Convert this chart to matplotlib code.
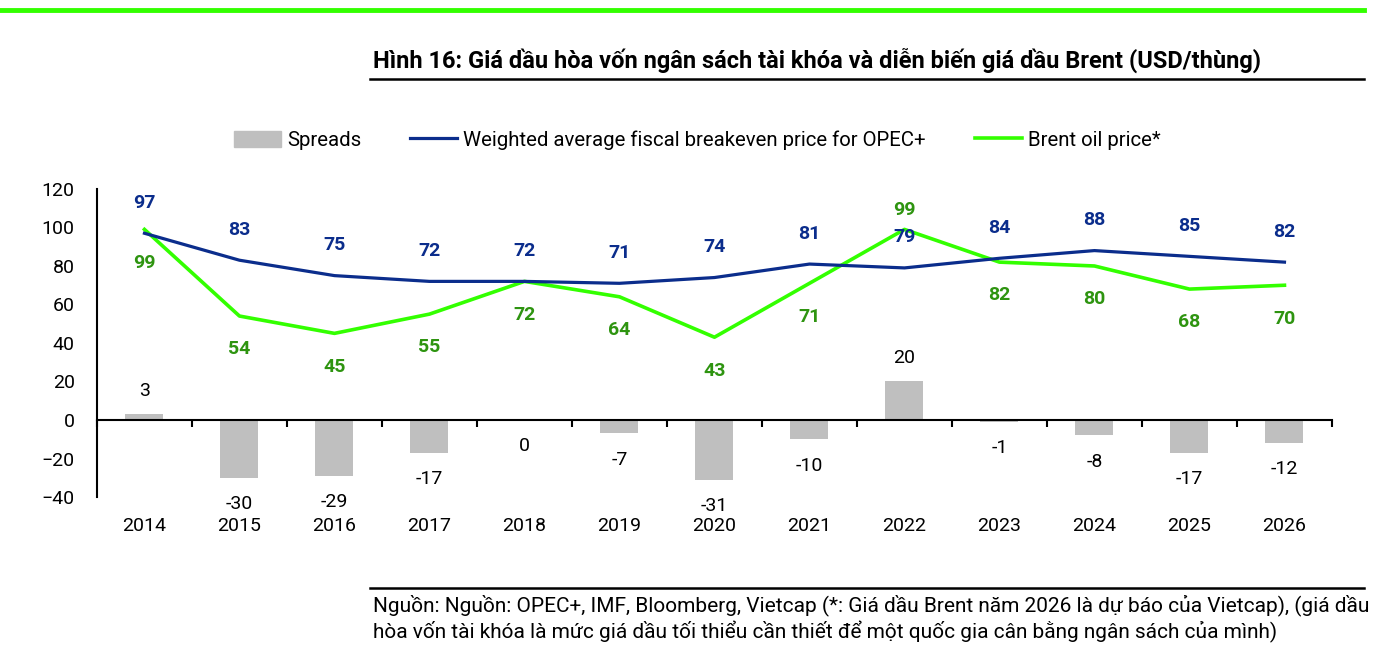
import matplotlib
matplotlib.use('Agg')
import matplotlib.pyplot as plt
from matplotlib.lines import Line2D
from matplotlib.patches import Patch
import matplotlib.transforms as mtransforms

plt.rcParams['font.family'] = ['Roboto', 'DejaVu Sans']

# du lieu doc tu hinh
nam = ['2014', '2015', '2016', '2017', '2018', '2019', '2020',
       '2021', '2022', '2023', '2024', '2025', '2026']
hoa_von = [97, 83, 75, 72, 72, 71, 74, 81, 79, 84, 88, 85, 82]
brent = [99, 54, 45, 55, 72, 64, 43, 71, 99, 82, 80, 68, 70]
spreads = [3, -30, -29, -17, 0, -7, -31, -10, 20, -1, -8, -17, -12]

xanh_dam = '#0b2d8c'
xanh_la = '#33ff00'
chu_la = '#2e9410'
xam = '#bfbfbf'

fig = plt.figure(figsize=(13.81, 6.61), dpi=100)
ax = fig.add_axes([0.0702, 0.2481, 0.8943, 0.466])

x = list(range(len(nam)))
ax.bar(x, spreads, width=0.4, color=xam, zorder=1)
ax.plot(x, hoa_von, color=xanh_dam, lw=2.3, zorder=3)
ax.plot(x, brent, color=xanh_la, lw=2.6, zorder=2)

# nhan so lieu
for i in x:
    ax.annotate(str(hoa_von[i]), (i, hoa_von[i]), xytext=(0, 22), textcoords='offset points',
                ha='center', va='center', fontsize=14, fontweight='bold', color=xanh_dam)
    dy = 14 if i == 8 else -24
    ax.annotate(str(brent[i]), (i, brent[i]), xytext=(0, dy), textcoords='offset points',
                ha='center', va='center', fontsize=14, fontweight='bold', color=chu_la)
    v = spreads[i]
    if v > 0:
        ax.annotate(str(v), (i, v), xytext=(0, 17), textcoords='offset points',
                    ha='center', va='center', fontsize=14, color='black')
    else:
        ax.annotate(str(v), (i, v), xytext=(0, -19), textcoords='offset points',
                    ha='center', va='center', fontsize=14, color='black')

ax.set_xlim(-0.5, len(nam) - 0.5)
ax.set_ylim(-40, 120)
ax.set_yticks(range(-40, 121, 20))
ax.tick_params(axis='y', length=0, labelsize=14, pad=16)

ax.spines['top'].set_visible(False)
ax.spines['right'].set_visible(False)
ax.spines['bottom'].set_position(('data', 0))
ax.spines['bottom'].set_linewidth(1.5)
ax.spines['left'].set_linewidth(1.5)
ax.set_xticks([i + 0.5 for i in range(-1, len(nam))])
ax.tick_params(axis='x', direction='out', length=5, width=1.5, labelbottom=False)

# nhan nam duoi truc
trans = mtransforms.blended_transform_factory(ax.transData, ax.transAxes)
for i, n in enumerate(nam):
    ax.text(i, -0.095, n, transform=trans, ha='center', va='center', fontsize=14)

# chu thich
handles = [Patch(color=xam),
           Line2D([0], [0], color=xanh_dam, lw=2.3),
           Line2D([0], [0], color=xanh_la, lw=2.6)]
labels = ['Spreads', 'Weighted average fiscal breakeven price for OPEC+', 'Brent oil price*']
fig.legend(handles, labels, loc='center', bbox_to_anchor=(0.505, 0.788), ncol=3,
           frameon=False, fontsize=14.7, handlelength=2.3, handletextpad=0.3,
           columnspacing=2.4, handleheight=0.8)

# tieu de va duong ke
fig.add_artist(Line2D([0, 0.988], [0.985, 0.985], color=xanh_la, lw=3.5, transform=fig.transFigure))
fig.text(0.270, 0.909, 'Hình 16: Giá dầu hòa vốn ngân sách tài khóa và diễn biến giá dầu Brent (USD/thùng)',
         fontsize=17, fontweight='bold', ha='left', va='center')
fig.add_artist(Line2D([0.268, 0.988], [0.880, 0.880], color='black', lw=1.8, transform=fig.transFigure))
fig.add_artist(Line2D([0.268, 0.988], [0.110, 0.110], color='black', lw=1.8, transform=fig.transFigure))
fig.text(0.270, 0.085, 'Nguồn: Nguồn: OPEC+, IMF, Bloomberg, Vietcap (*: Giá dầu Brent năm 2026 là dự báo của Vietcap), (giá dầu',
         fontsize=15, ha='left', va='center')
fig.text(0.270, 0.044, 'hòa vốn tài khóa là mức giá dầu tối thiểu cần thiết để một quốc gia cân bằng ngân sách của mình)',
         fontsize=15, ha='left', va='center')

fig.savefig('out.png', dpi=100)
